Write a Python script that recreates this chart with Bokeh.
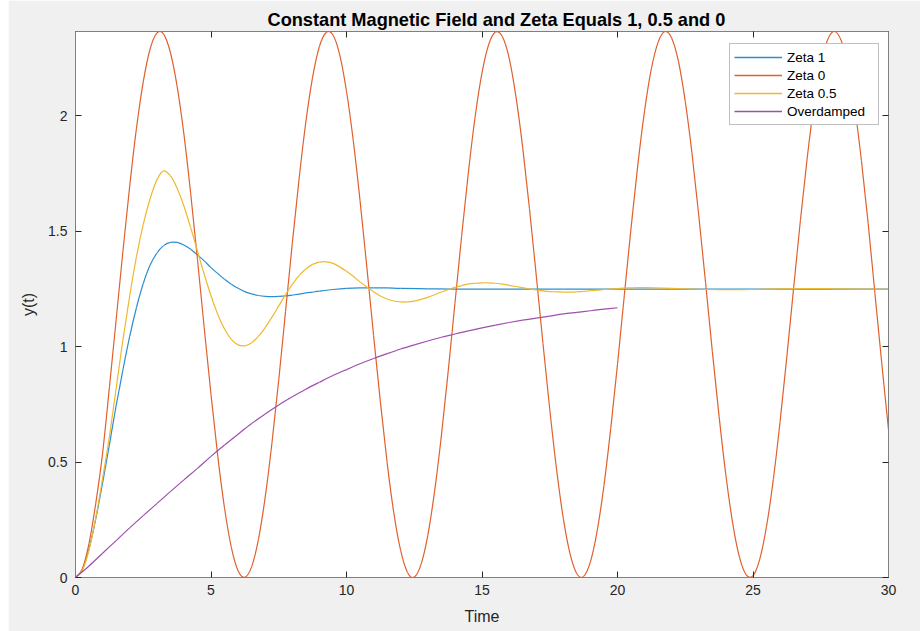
from bokeh.plotting import figure
from bokeh.models import (Range1d, LinearAxis, FixedTicker, NumeralTickFormatter, Legend,
                          LegendItem, ColumnDataSource)
from bokeh.embed import file_html
from bokeh.resources import INLINE

# ---- data ----
t_quarter = [
    0, 0.25, 0.5, 0.75, 1, 1.25, 1.5, 1.75, 2, 2.25, 2.5, 2.75, 3, 3.25, 3.5, 3.75, 4, 4.25, 4.5, 4.75,
    5, 5.25, 5.5, 5.75, 6, 6.25, 6.5, 6.75, 7, 7.25, 7.5, 7.75, 8, 8.25, 8.5, 8.75, 9, 9.25, 9.5, 9.75,
    10, 10.25, 10.5, 10.75, 11, 11.25, 11.5, 11.75, 12, 12.25, 12.5, 12.75, 13, 13.25, 13.5, 13.75, 14, 14.25, 14.5, 14.75,
    15, 15.25, 15.5, 15.75, 16, 16.25, 16.5, 16.75, 17, 17.25, 17.5, 17.75, 18, 18.25, 18.5, 18.75, 19, 19.25, 19.5, 19.75,
    20, 20.25, 20.5, 20.75, 21, 21.25, 21.5, 21.75, 22, 22.25, 22.5, 22.75, 23, 23.25, 23.5, 23.75, 24, 24.25, 24.5, 24.75,
    25, 25.25, 25.5, 25.75, 26, 26.25, 26.5, 26.75, 27, 27.25, 27.5, 27.75, 28, 28.25, 28.5, 28.75, 29, 29.25, 29.5, 29.75,
    30,
]

zeta0_y = [
    0, 0.037, 0.148, 0.323, 0.539, 0.823, 1.117, 1.414, 1.696, 1.947, 2.148, 2.289, 2.359, 2.355, 2.276, 2.128, 1.921, 1.664, 1.379, 1.082,
    0.793, 0.526, 0.300, 0.131, 0.029, 0.001, 0.047, 0.165, 0.348, 0.584, 0.857, 1.152, 1.448, 1.727, 1.974, 2.168, 2.301, 2.362, 2.351, 2.265,
    2.107, 1.893, 1.633, 1.345, 1.048, 0.761, 0.497, 0.277, 0.116, 0.022, 0.002, 0.057, 0.183, 0.373, 0.613, 0.891, 1.186, 1.482, 1.758, 2.000,
    2.187, 2.311, 2.364, 2.344, 2.252, 2.086, 1.865, 1.600, 1.311, 1.014, 0.729, 0.470, 0.256, 0.102, 0.016, 0.005, 0.068, 0.202, 0.398, 0.645,
    0.924, 1.221, 1.515, 1.788, 2.023, 2.205, 2.320, 2.366, 2.337, 2.236, 2.063, 1.837, 1.567, 1.277, 0.979, 0.697, 0.443, 0.236, 0.088, 0.011,
    0.008, 0.080, 0.222, 0.425, 0.676, 0.958, 1.256, 1.548, 1.818, 2.048, 2.222, 2.329, 2.366, 2.328, 2.220, 2.040, 1.808, 1.534, 1.23, 0.93,
    0.64,
]

zeta1_t = t_quarter[:37] + [9.5, 10, 10.5, 11, 11.5, 12, 13, 14, 16, 18, 20, 22, 24, 26, 28, 30]
zeta1_y = [
    0, 0.034, 0.125, 0.255, 0.41, 0.575, 0.745, 0.90, 1.045, 1.17, 1.274, 1.353, 1.405, 1.438, 1.452, 1.452, 1.441, 1.422, 1.398, 1.372,
    1.343, 1.317, 1.292, 1.271, 1.253, 1.239, 1.229, 1.222, 1.218, 1.217, 1.218, 1.220, 1.224, 1.228, 1.233, 1.237, 1.241,
    1.248, 1.253, 1.255, 1.255, 1.255, 1.253, 1.251, 1.250, 1.250, 1.250, 1.250, 1.250, 1.250, 1.250, 1.250, 1.250,
]

zeta05_t = t_quarter[:85] + [22, 23, 24, 25, 26, 27, 28, 29, 30]
zeta05_y = [
    0, 0.03, 0.12, 0.26, 0.43, 0.61, 0.82, 1.03, 1.22, 1.39, 1.53, 1.64, 1.722, 1.762, 1.741, 1.687, 1.610, 1.516, 1.415, 1.314,
    1.221, 1.140, 1.077, 1.032, 1.008, 1.004, 1.017, 1.045, 1.083, 1.128, 1.177, 1.226, 1.270, 1.308, 1.337, 1.357, 1.367, 1.368, 1.361, 1.346,
    1.327, 1.305, 1.281, 1.259, 1.238, 1.220, 1.207, 1.198, 1.194, 1.194, 1.198, 1.205, 1.214, 1.225, 1.237, 1.247, 1.257, 1.265, 1.272, 1.275,
    1.277, 1.277, 1.275, 1.271, 1.266, 1.261, 1.256, 1.251, 1.246, 1.242, 1.239, 1.238, 1.237, 1.237, 1.238, 1.240, 1.243, 1.245, 1.248, 1.250,
    1.252, 1.254, 1.255, 1.256, 1.256,
    1.253, 1.249, 1.247, 1.248, 1.251, 1.252, 1.251, 1.250, 1.249,
]

over_t = t_quarter[0:81:2]
over_y = [
    0, 0.05, 0.105, 0.16, 0.215, 0.268, 0.32, 0.372, 0.423, 0.473,
    0.525, 0.574, 0.621, 0.667, 0.709, 0.748, 0.783, 0.816, 0.846, 0.875,
    0.901, 0.926, 0.949, 0.970, 0.990, 1.008, 1.025, 1.041, 1.055, 1.069,
    1.082, 1.094, 1.105, 1.115, 1.124, 1.133, 1.142, 1.149, 1.156, 1.163,
    1.169,
]

x_ticks = [0, 5, 10, 15, 20, 25, 30]
y_ticks = [0, 0.5, 1, 1.5, 2]
series_names = ["Zeta 1", "Zeta 0", "Zeta 0.5", "Overdamped"]
series_colors = ["#2a8fd0", "#e0602e", "#efb92c", "#9e4fac"]

FONT = "Liberation Sans"
AX = "#262626"
LW = 1.2


def smooth_source(xs, ys):
    """Catmull-Rom Bezier segments through the read points (drawing only)."""
    n = len(xs)
    d = {k: [] for k in ("x0", "y0", "x1", "y1", "cx0", "cy0", "cx1", "cy1")}
    for i in range(n - 1):
        im, ip2 = max(i - 1, 0), min(i + 2, n - 1)
        d["x0"].append(xs[i]); d["y0"].append(ys[i])
        d["x1"].append(xs[i + 1]); d["y1"].append(ys[i + 1])
        d["cx0"].append(xs[i] + (xs[i + 1] - xs[im]) / 6.0)
        d["cy0"].append(ys[i] + (ys[i + 1] - ys[im]) / 6.0)
        d["cx1"].append(xs[i + 1] - (xs[ip2] - xs[i]) / 6.0)
        d["cy1"].append(ys[i + 1] - (ys[ip2] - ys[i]) / 6.0)
    return ColumnDataSource(d)


p = figure(width=912, height=631, output_backend="svg", toolbar_location=None,
           x_range=Range1d(0, 30), y_range=Range1d(0, 2.366),
           min_border_left=67, min_border_right=32, min_border_top=31, min_border_bottom=54,
           background_fill_color="white", border_fill_color="#f0f0f0",
           outline_line_color="#808080", outline_line_width=1)
p.margin = (0, 0, 0, 8)
p.xgrid.visible = False
p.ygrid.visible = False

p.title.text = "Constant Magnetic Field and Zeta Equals 1, 0.5 and 0"
p.title.text_font = FONT
p.title.text_font_size = "18.2px"
p.title.text_font_style = "bold"
p.title.text_color = "#000000"
p.title.align = "left"
p.title.offset = 192
p.title.standoff = 3


def style_axis(ax, labels=True):
    ax.major_tick_in = 6
    ax.major_tick_out = 0
    ax.minor_tick_line_color = None
    ax.axis_line_color = "#808080"
    ax.major_tick_line_color = AX
    ax.major_label_text_font = FONT
    if labels:
        ax.major_label_text_font_size = "14px"
        ax.major_label_text_color = AX
    else:
        ax.major_label_text_font_size = "1px"
        ax.major_label_text_color = None
        ax.major_label_standoff = 0


xa = p.xaxis[0]
ya = p.yaxis[0]
xa.ticker = FixedTicker(ticks=x_ticks)
ya.ticker = FixedTicker(ticks=y_ticks)
ya.formatter = NumeralTickFormatter(format="0.[0]")
style_axis(xa)
style_axis(ya)
xa.major_label_standoff = 7
ya.major_label_standoff = 8
xa.axis_label = "Time"
ya.axis_label = "y(t)"
for ax in (xa, ya):
    ax.axis_label_text_font = FONT
    ax.axis_label_text_font_size = "16px"
    ax.axis_label_text_font_style = "normal"
    ax.axis_label_text_color = AX
xa.axis_label_standoff = 10
ya.axis_label_standoff = 8

top = LinearAxis(ticker=FixedTicker(ticks=x_ticks))
right = LinearAxis(ticker=FixedTicker(ticks=y_ticks))
style_axis(top, labels=False)
style_axis(right, labels=False)
p.add_layout(top, "above")
p.add_layout(right, "right")

series = [(zeta1_t, zeta1_y), (t_quarter, zeta0_y), (zeta05_t, zeta05_y), (over_t, over_y)]
items = []
for (xs, ys), name, color in zip(series, series_names, series_colors):
    p.bezier(x0="x0", y0="y0", x1="x1", y1="y1", cx0="cx0", cy0="cy0", cx1="cx1", cy1="cy1",
             source=smooth_source(xs, ys), line_color=color, line_width=LW)
    # legend key only: a single-point line draws nothing in the plot area
    proxy = p.line(xs[:1], ys[:1], line_color=color, line_width=1.5)
    items.append(LegendItem(label=name, renderers=[proxy]))

legend = Legend(items=items, location=(654, 452), margin=0, padding=4, spacing=0,
                label_height=18, glyph_height=18, glyph_width=48, label_standoff=5, label_width=87,
                label_text_font=FONT, label_text_font_size="13.5px", label_text_color="#000000",
                border_line_color="#808080", border_line_width=1, background_fill_color="white",
                background_fill_alpha=1)
p.add_layout(legend)

open("out.html", "w").write(file_html(p, INLINE))
